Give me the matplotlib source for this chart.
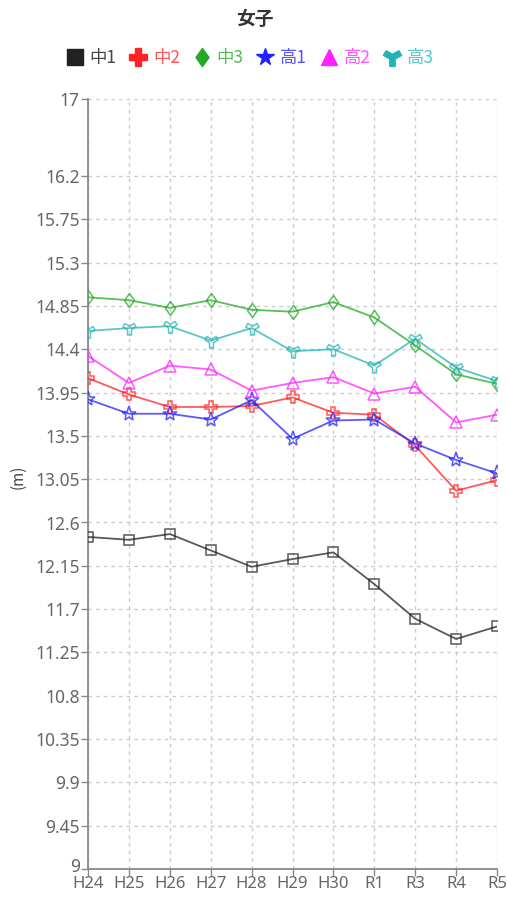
import numpy as np
import matplotlib
matplotlib.use("Agg")
import matplotlib.pyplot as plt
from matplotlib.path import Path
from matplotlib.lines import Line2D
from matplotlib.transforms import ScaledTranslation

plt.rcParams['font.family'] = ['Noto Sans CJK JP', 'DejaVu Sans']

years = ["H24", "H25", "H26", "H27", "H28", "H29", "H30", "R1", "R3", "R4", "R5"]

chu1 = [12.45, 12.42, 12.48, 12.31, 12.14, 12.22, 12.29, 11.96, 11.60, 11.39, 11.52]
chu2 = [14.10, 13.93, 13.80, 13.80, 13.81, 13.90, 13.74, 13.72, 13.40, 12.93, 13.04]
chu3 = [14.94, 14.91, 14.83, 14.91, 14.81, 14.79, 14.89, 14.73, 14.44, 14.14, 14.04]
kou1 = [13.88, 13.73, 13.73, 13.67, 13.87, 13.47, 13.66, 13.67, 13.42, 13.25, 13.11]
kou2 = [14.33, 14.05, 14.23, 14.19, 13.97, 14.05, 14.11, 13.94, 14.01, 13.64, 13.72]
kou3 = [14.59, 14.62, 14.64, 14.49, 14.62, 14.38, 14.40, 14.23, 14.51, 14.21, 14.07]

names = ["中1", "中2", "中3", "高1", "高2", "高3"]
yticks = [9, 9.45, 9.9, 10.35, 10.8, 11.25, 11.7, 12.15, 12.6, 13.05, 13.5,
          13.95, 14.4, 14.85, 15.3, 15.75, 16.2, 17]


def y_marker():
    # thick "Y" outline, arms at 30, 150, 270 degrees
    w, L = 0.3, 1.0
    verts = []
    for a in np.deg2rad([30, 150, 270]):
        d = np.array([np.cos(a), np.sin(a)])
        p = np.array([-np.sin(a), np.cos(a)])
        verts.append(L * d - w * p)
        verts.append(L * d + w * p)
        b = a + np.deg2rad(60)
        verts.append(w / np.sin(np.deg2rad(60)) * np.array([np.cos(b), np.sin(b)]))
    verts.append(verts[0])
    codes = [Path.MOVETO] + [Path.LINETO] * (len(verts) - 2) + [Path.CLOSEPOLY]
    return Path(verts, codes)


def diamond():
    return Path([(0, 1), (0.72, 0), (0, -1), (-0.72, 0), (0, 1)],
                [Path.MOVETO, Path.LINETO, Path.LINETO, Path.LINETO, Path.CLOSEPOLY])


series = [chu1, chu2, chu3, kou1, kou2, kou3]
colors = ["#222222", "#ff2222", "#22aa22", "#2222ff", "#ff22ff", "#22b4b4"]
text_colors = ["#444444", "#ff5555", "#55bb55", "#5555ff", "#ff55ff", "#55c8c8"]
markers = ["s", "P", diamond(), "*", "^", y_marker()]
msizes = [7, 9, 10, 11, 9, 9.5]
leg_sizes = [12, 13, 13, 13, 12, 13]

fig = plt.figure(figsize=(5.07, 8.97), dpi=100)
ax = fig.add_axes([88 / 507, 28 / 897, 409 / 507, 770 / 897])

x = np.arange(len(years))
for vals, c, m, ms in zip(series, colors, markers, msizes):
    ax.plot(x, vals, color=c, alpha=0.75, lw=1.3, marker=m, ms=ms,
            mfc="none", mec=c, mew=1.1, zorder=3)

ax.set_xlim(0, len(years) - 1)
ax.set_ylim(9, 17)
ax.set_xticks(x)
ax.set_xticklabels(years)
ax.set_yticks(yticks)
ax.set_yticklabels([f"{v:g}" for v in yticks])
ax.grid(True, color="#cccccc", ls=(0, (2.5, 3)), lw=1)
ax.set_axisbelow(True)
for s in ["top", "right"]:
    ax.spines[s].set_visible(False)
for s in ["left", "bottom"]:
    ax.spines[s].set_color("#888888")
    ax.spines[s].set_linewidth(1.3)
ax.tick_params(colors="#888888", labelcolor="#666666", labelsize=12.5,
               length=5, width=1, pad=1)
ax.tick_params(axis="x", labelsize=12, pad=0)
for lab in ax.get_xticklabels() + ax.get_yticklabels():
    lab.set_family("Noto Sans")
# nudge the "9" a little up so it clears the H24 label
lab9 = ax.yaxis.get_major_ticks()[0].label1
lab9.set_transform(lab9.get_transform() + ScaledTranslation(0, 3 / 72, fig.dpi_scale_trans))

fig.text(18 / 507, 1 - 477 / 897, "(m)", rotation=90, ha="center", va="center",
         fontsize=11, color="#444444")
fig.text(255 / 507, 1 - 19 / 897, "女子", ha="center", va="center",
         fontsize=13.5, fontweight="bold", color="#333333")

handles = []
for c, m, ms in zip(colors, markers, leg_sizes):
    handles.append(Line2D([], [], ls="none", marker=m, color=c, mfc=c, mec=c,
                          ms=ms))
leg = fig.legend(handles, names, loc="center", bbox_to_anchor=(250 / 507, 1 - 58 / 897),
                 ncol=6, frameon=False, fontsize=12.5, handlelength=1.0,
                 handletextpad=0.35, columnspacing=0.75, borderpad=0)
for t, c in zip(leg.get_texts(), text_colors):
    t.set_color(c)

fig.savefig("out.png", dpi=100)
